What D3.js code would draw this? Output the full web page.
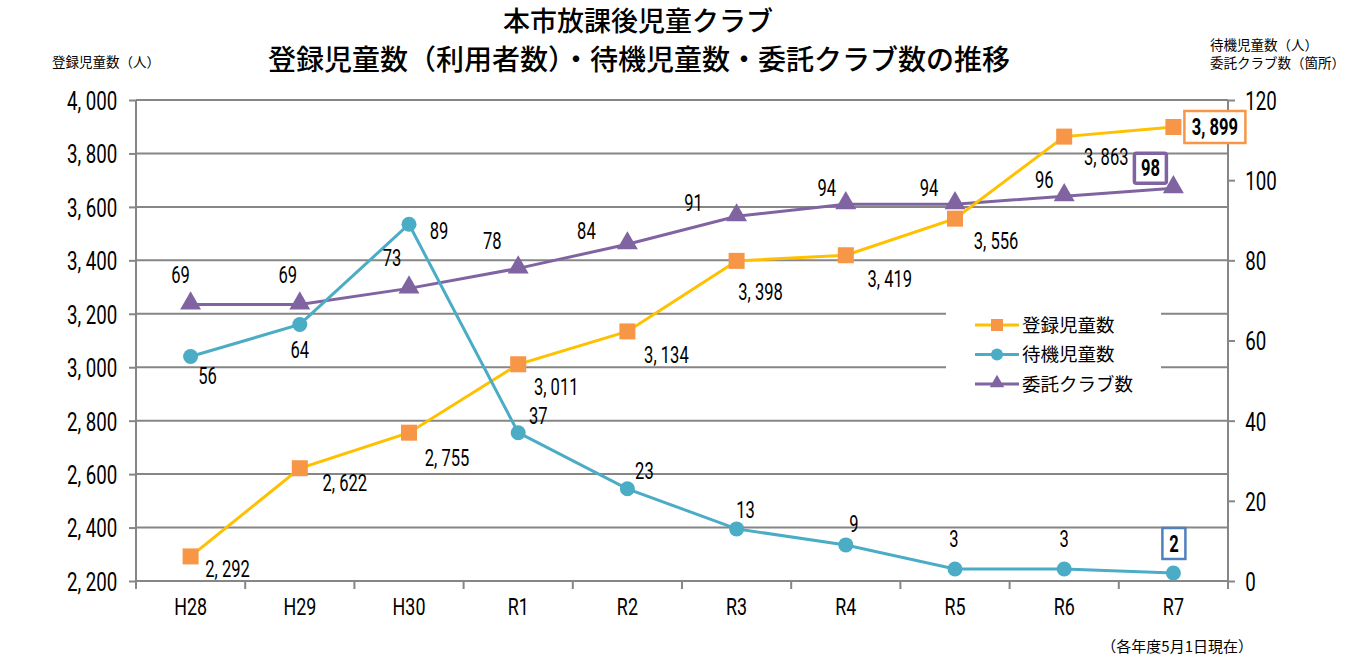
<!DOCTYPE html>
<html><head><meta charset="utf-8">
<script src="https://cdn.jsdelivr.net/npm/d3@7/dist/d3.min.js"></script>
<style>body{margin:0;background:#fff}svg{display:block}</style>
</head><body>
<svg id="c" width="1348" height="662"></svg>
<script>
const categories = ["H28","H29","H30","R1","R2","R3","R4","R5","R6","R7"];
const registered = [2292,2622,2755,3011,3134,3398,3419,3556,3863,3899];
const waiting = [56,64,89,37,23,13,9,3,3,2];
const clubs = [69,69,73,78,84,91,94,94,96,98];
const leftTicks = [2200,2400,2600,2800,3000,3200,3400,3600,3800,4000];
const rightTicks = [0,20,40,60,80,100,120];
const seriesNames = ["登録児童数","待機児童数","委託クラブ数"];
// label offsets [dx,dy] relative to marker (styling, not data)
const regOff = [[37,14],[45,16],[38,26],[38,24],[39,25],[24,32],[44,25],[41,23],[42,21],[0,0]];
const waitOff = [[17,20],[0,27],[30,8],[20,-16],[17,-17],[9,-18],[8,-20],[-1,-29],[0,-29],[0,0]];
const clubOff = [[-10,-28],[-12,-28],[-17,-29],[-26,-26],[-41,-12],[-43,-12],[-19,-15],[-26,-15],[-20,-15],[0,0]];

const svg = d3.select("#c");
const L = 136, R = 1228, T = 100, B = 581;
const CJK = "'Noto Sans CJK JP','Noto Sans',sans-serif";
const NUM = "'Roboto','Noto Sans',sans-serif";
const x = d3.scaleBand().domain(categories).range([L, R]);
const xc = d => x(d) + x.bandwidth()/2;
const yL = d3.scaleLinear().domain([2200,4000]).range([B, T]);
const yR = d3.scaleLinear().domain([0,120]).range([B, T]);
const fmt = v => d3.format(",")(v).replace(",", ", ");
const GRID = "#868686";

function ctext(g, px, py, str, size, anchor, sx, weight){
  const gg = g.append("g").attr("transform", `translate(${px},${py}) scale(${sx},1)`);
  return gg.append("text").attr("text-anchor", anchor).attr("font-family", NUM)
    .attr("font-size", size).attr("font-weight", weight||400).attr("fill","#000").text(str);
}

// gridlines
svg.append("g").selectAll("line").data(leftTicks).join("line")
  .attr("x1", L).attr("x2", R).attr("y1", d=>yL(d)).attr("y2", d=>yL(d))
  .attr("stroke", GRID).attr("stroke-width", 2);

// axes
const ax = svg.append("g").attr("transform", `translate(${L},0)`)
  .call(d3.axisLeft(yL).tickValues(leftTicks).tickSize(7).tickPadding(19).tickFormat(fmt));
ax.selectAll("text").attr("font-family", NUM).attr("font-size", 26).attr("fill","#000")
  .attr("transform","scale(0.72,1)").attr("dy","0.36em");
const ar = svg.append("g").attr("transform", `translate(${R},0)`)
  .call(d3.axisRight(yR).tickValues(rightTicks).tickSize(7).tickPadding(17));
ar.selectAll("text").attr("font-family", NUM).attr("font-size", 26).attr("fill","#000")
  .attr("transform","scale(0.72,1)").attr("dy","0.36em");
const ab = svg.append("g").attr("transform", `translate(0,${B})`)
  .call(d3.axisBottom(x).tickSize(0).tickPadding(17));
ab.selectAll("text").attr("font-family", NUM).attr("font-size", 24.5).attr("fill","#000")
  .attr("transform","scale(0.73,1)").attr("dy","0.71em");
[ax, ar, ab].forEach(a => { a.selectAll("line").attr("stroke", GRID).attr("stroke-width", 2);
  a.select(".domain").attr("stroke", GRID).attr("stroke-width", 2); });
ab.select(".domain").remove();
ax.select(".domain").attr("d", `M0,${T}V${B}`);
ar.select(".domain").attr("d", `M0,${T}V${B}`);
const bounds = categories.map(c => x(c)).concat([R]);
svg.append("g").selectAll("line").data(bounds).join("line")
  .attr("x1", d=>d).attr("x2", d=>d).attr("y1", B).attr("y2", B+8)
  .attr("stroke", GRID).attr("stroke-width", 2);
ab.selectAll(".tick text").attr("x", 0);

// legend background
const lg = svg.append("g");
lg.append("rect").attr("x", 946).attr("y", 300).attr("width", 215).attr("height", 100).attr("fill", "#fff");

// lines
const lineL = d3.line().x((d,i)=>xc(categories[i])).y(d=>yL(d));
const lineR = d3.line().x((d,i)=>xc(categories[i])).y(d=>yR(d));
svg.append("path").attr("d", lineR(clubs)).attr("fill","none").attr("stroke","#8064A2").attr("stroke-width",3);
svg.append("path").attr("d", lineL(registered)).attr("fill","none").attr("stroke","#FFC000").attr("stroke-width",3);
svg.append("path").attr("d", lineR(waiting)).attr("fill","none").attr("stroke","#4BACC6").attr("stroke-width",3);

const tri = d3.symbol().type(d3.symbolTriangle).size(190);
svg.append("g").selectAll("path").data(clubs).join("path")
  .attr("d", tri).attr("transform", (d,i)=>`translate(${xc(categories[i])},${yR(d)-1})`).attr("fill","#8064A2");
svg.append("g").selectAll("rect").data(registered).join("rect")
  .attr("x",(d,i)=>xc(categories[i])-8).attr("y",d=>yL(d)-8).attr("width",16).attr("height",16).attr("fill","#F79646");
svg.append("g").selectAll("circle").data(waiting).join("circle")
  .attr("cx",(d,i)=>xc(categories[i])).attr("cy",d=>yR(d)).attr("r",7.5).attr("fill","#4BACC6");

// data labels
const lab = svg.append("g");
registered.forEach((v,i)=>{ if(i<9) ctext(lab, xc(categories[i])+regOff[i][0], yL(v)+regOff[i][1]+7, fmt(v), 23, "middle", 0.72); });
waiting.forEach((v,i)=>{ if(i<9) ctext(lab, xc(categories[i])+waitOff[i][0], yR(v)+waitOff[i][1]+7, v, 23, "middle", 0.72); });
clubs.forEach((v,i)=>{ if(i<9) ctext(lab, xc(categories[i])+clubOff[i][0], yR(v)+clubOff[i][1]+7, v, 23, "middle", 0.72); });

// boxed last labels
const li = 9;
const bx1 = xc(categories[li]);
lab.append("rect").attr("x", bx1+11).attr("y", yL(registered[li])-16).attr("width", 61).attr("height", 32)
  .attr("fill","#fff").attr("stroke","#F79646").attr("stroke-width",2.5);
ctext(lab, bx1+41.5, yL(registered[li])+8, fmt(registered[li]), 23, "middle", 0.72, 700);
lab.append("rect").attr("x", bx1-39).attr("y", yR(clubs[li])-35).attr("width", 32).attr("height", 30)
  .attr("fill","#fff").attr("stroke","#8064A2").attr("stroke-width",3.5).attr("rx",2);
ctext(lab, bx1-23, yR(clubs[li])-12, clubs[li], 23, "middle", 0.72, 700);
lab.append("rect").attr("x", bx1-11).attr("y", yR(waiting[li])-45).attr("width", 23).attr("height", 31)
  .attr("fill","#fff").attr("stroke","#4F81BD").attr("stroke-width",2.5);
ctext(lab, bx1+0.5, yR(waiting[li])-21, waiting[li], 23, "middle", 0.72, 700);

// legend
const lcol = [["#FFC000","#F79646","sq"],["#4BACC6","#4BACC6","ci"],["#8064A2","#8064A2","tr"]];
seriesNames.forEach((n,i)=>{
  const yy = 325 + i*29.5;
  lg.append("line").attr("x1",975).attr("x2",1019).attr("y1",yy).attr("y2",yy).attr("stroke",lcol[i][0]).attr("stroke-width",3);
  if(lcol[i][2]==="sq") lg.append("rect").attr("x",991).attr("y",yy-6).attr("width",12).attr("height",12).attr("fill",lcol[i][1]);
  if(lcol[i][2]==="ci") lg.append("circle").attr("cx",997).attr("cy",yy).attr("r",6).attr("fill",lcol[i][1]);
  if(lcol[i][2]==="tr") lg.append("path").attr("d", d3.symbol().type(d3.symbolTriangle).size(90)).attr("transform",`translate(997,${yy-1})`).attr("fill",lcol[i][1]);
  lg.append("text").attr("x",1022).attr("y",yy+6.5).attr("font-family",CJK).attr("font-size",18.5).attr("fill","#000").text(n);
});

// titles
svg.append("text").attr("x",638).attr("y",31).attr("text-anchor","middle").attr("font-family",CJK)
  .attr("font-size",27).attr("font-weight",500).attr("fill","#000").text("本市放課後児童クラブ");
svg.append("text").attr("x",639).attr("y",70).attr("text-anchor","middle").attr("font-family",CJK)
  .attr("font-size",28).attr("font-weight",500).attr("fill","#000").text("登録児童数（利用者数）・待機児童数・委託クラブ数の推移");
svg.append("text").attr("x",52).attr("y",67).attr("font-family",CJK).attr("font-size",13.5).attr("fill","#000").text("登録児童数（人）");
svg.append("text").attr("x",1210).attr("y",50).attr("font-family",CJK).attr("font-size",13.5).attr("fill","#000").text("待機児童数（人）");
svg.append("text").attr("x",1210).attr("y",68).attr("font-family",CJK).attr("font-size",13.5).attr("fill","#000").text("委託クラブ数（箇所）");
svg.append("text").attr("x",1253).attr("y",652).attr("text-anchor","end").attr("font-family",CJK).attr("font-size",15).attr("fill","#000").text("（各年度5月1日現在）");
</script>
</body></html>
